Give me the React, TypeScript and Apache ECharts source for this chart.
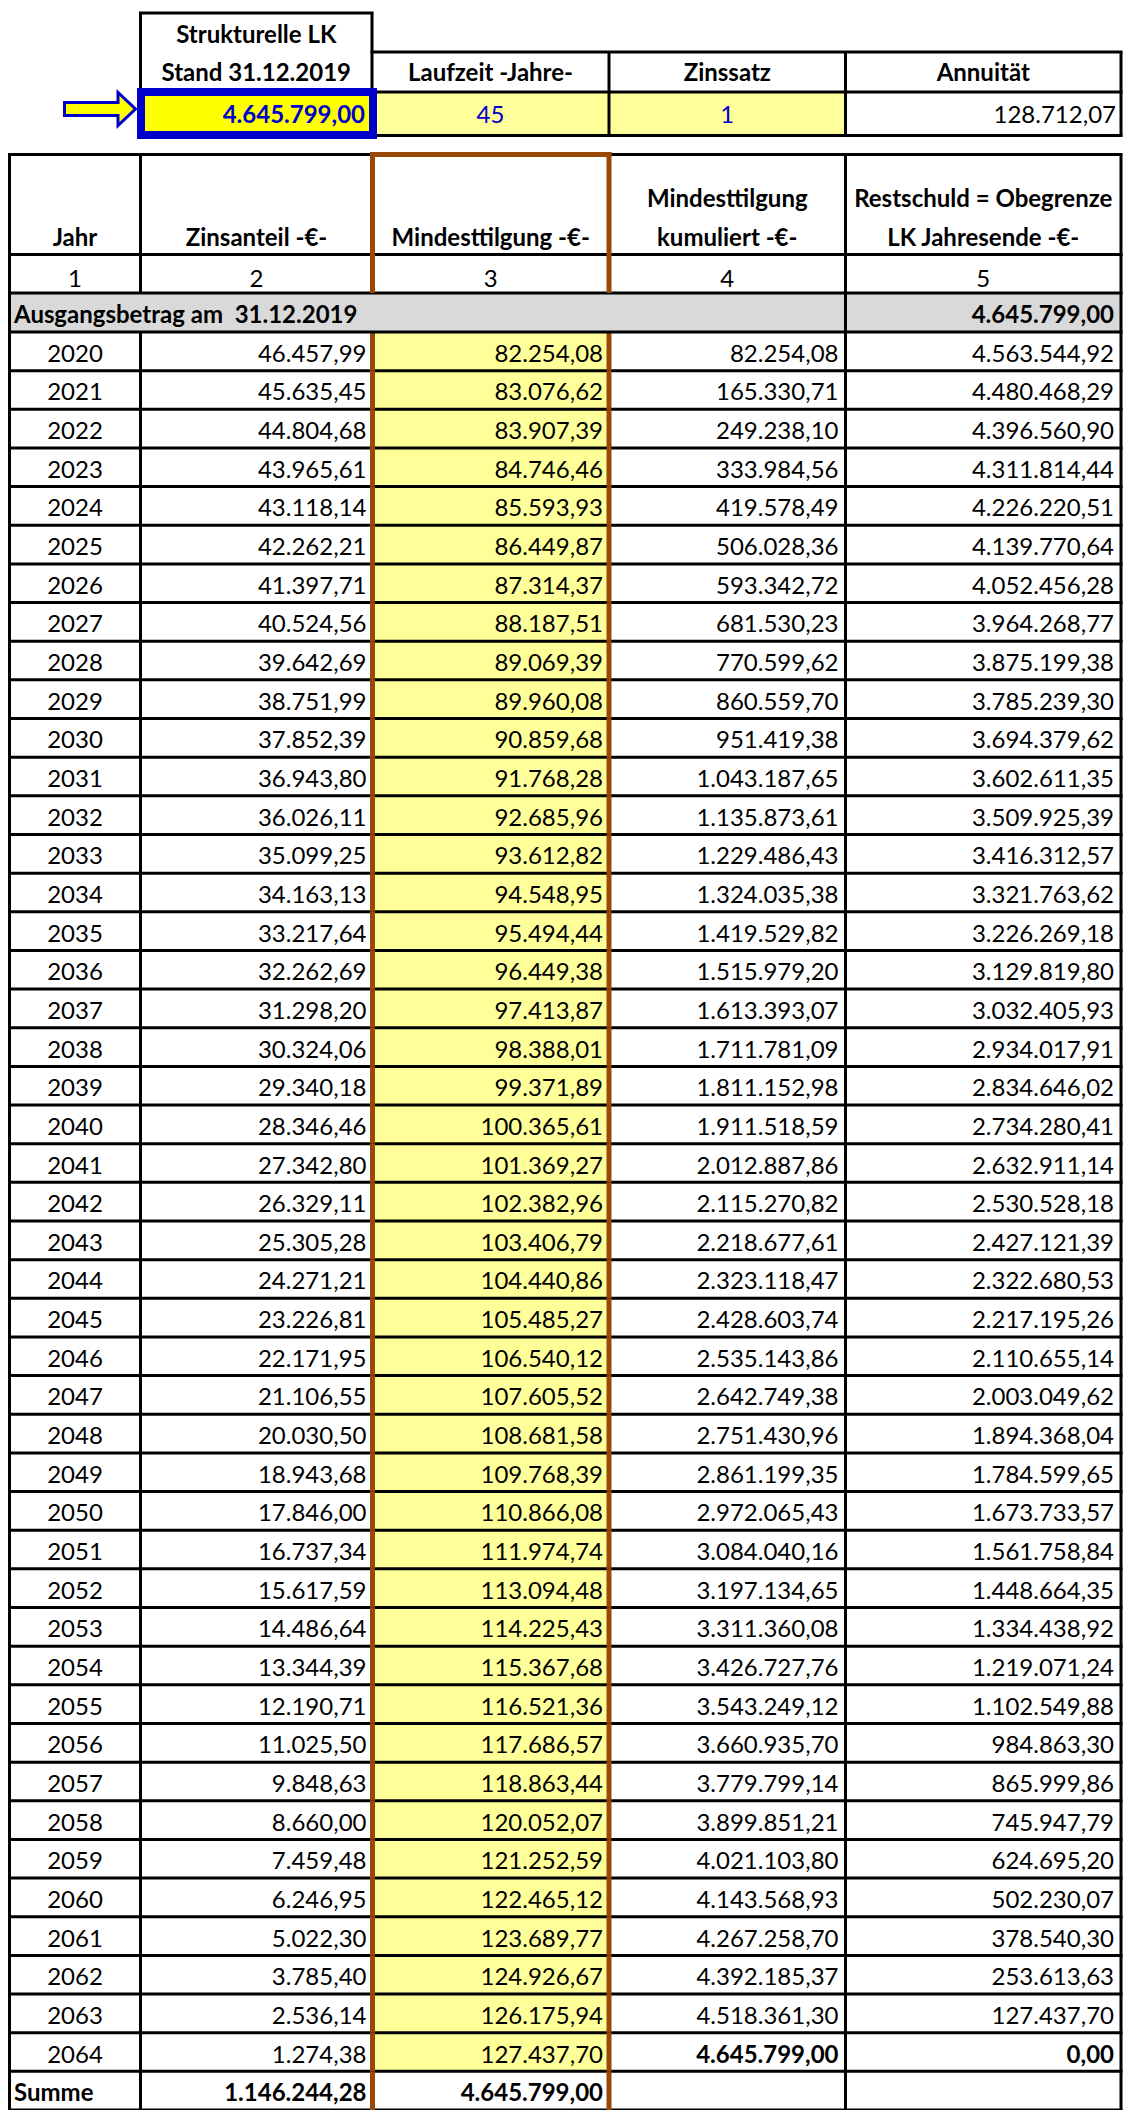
import React, { useEffect, useRef } from "react";
import * as echarts from "echarts";

// ---------- DATA ----------
const years = [
  "2020", "2021", "2022", "2023", "2024", "2025", "2026", "2027", "2028", "2029",
  "2030", "2031", "2032", "2033", "2034", "2035", "2036", "2037", "2038", "2039",
  "2040", "2041", "2042", "2043", "2044", "2045", "2046", "2047", "2048", "2049",
  "2050", "2051", "2052", "2053", "2054", "2055", "2056", "2057", "2058", "2059",
  "2060", "2061", "2062", "2063", "2064",
];
const zinsanteil = [
  46457.99, 45635.45, 44804.68, 43965.61, 43118.14, 42262.21, 41397.71, 40524.56, 39642.69, 38751.99,
  37852.39, 36943.80, 36026.11, 35099.25, 34163.13, 33217.64, 32262.69, 31298.20, 30324.06, 29340.18,
  28346.46, 27342.80, 26329.11, 25305.28, 24271.21, 23226.81, 22171.95, 21106.55, 20030.50, 18943.68,
  17846.00, 16737.34, 15617.59, 14486.64, 13344.39, 12190.71, 11025.50, 9848.63, 8660.00, 7459.48,
  6246.95, 5022.30, 3785.40, 2536.14, 1274.38,
];
const mindesttilgung = [
  82254.08, 83076.62, 83907.39, 84746.46, 85593.93, 86449.87, 87314.37, 88187.51, 89069.39, 89960.08,
  90859.68, 91768.28, 92685.96, 93612.82, 94548.95, 95494.44, 96449.38, 97413.87, 98388.01, 99371.89,
  100365.61, 101369.27, 102382.96, 103406.79, 104440.86, 105485.27, 106540.12, 107605.52, 108681.58, 109768.39,
  110866.08, 111974.74, 113094.48, 114225.43, 115367.68, 116521.36, 117686.57, 118863.44, 120052.07, 121252.59,
  122465.12, 123689.77, 124926.67, 126175.94, 127437.70,
];
const kumuliert = [
  82254.08, 165330.71, 249238.10, 333984.56, 419578.49, 506028.36, 593342.72, 681530.23, 770599.62, 860559.70,
  951419.38, 1043187.65, 1135873.61, 1229486.43, 1324035.38, 1419529.82, 1515979.20, 1613393.07, 1711781.09, 1811152.98,
  1911518.59, 2012887.86, 2115270.82, 2218677.61, 2323118.47, 2428603.74, 2535143.86, 2642749.38, 2751430.96, 2861199.35,
  2972065.43, 3084040.16, 3197134.65, 3311360.08, 3426727.76, 3543249.12, 3660935.70, 3779799.14, 3899851.21, 4021103.80,
  4143568.93, 4267258.70, 4392185.37, 4518361.30, 4645799.00,
];
const restschuld = [
  4563544.92, 4480468.29, 4396560.90, 4311814.44, 4226220.51, 4139770.64, 4052456.28, 3964268.77, 3875199.38, 3785239.30,
  3694379.62, 3602611.35, 3509925.39, 3416312.57, 3321763.62, 3226269.18, 3129819.80, 3032405.93, 2934017.91, 2834646.02,
  2734280.41, 2632911.14, 2530528.18, 2427121.39, 2322680.53, 2217195.26, 2110655.14, 2003049.62, 1894368.04, 1784599.65,
  1673733.57, 1561758.84, 1448664.35, 1334438.92, 1219071.24, 1102549.88, 984863.30, 865999.86, 745947.79, 624695.20,
  502230.07, 378540.30, 253613.63, 127437.70, 0.00,
];
const summeLabel = "Summe";
const summeZins = 1146244.28;
const summeTilgung = 4645799.0;

const strukturelleLK = 4645799.0;
const laufzeitJahre = 45;
const zinssatz = 1;
const annuitaet = 128712.07;
const startLabel = "Ausgangsbetrag am\u00A0 31.12.2019";
const startBetrag = 4645799.0;

const topHeaderA = ["Strukturelle LK", "Stand 31.12.2019"];
const topHeaders = ["Laufzeit -Jahre-", "Zinssatz", "Annuität"];
const colHeaders: string[][] = [
  ["Jahr"],
  ["Zinsanteil -€-"],
  ["Mindesttilgung -€-"],
  ["Mindesttilgung", "kumuliert -€-"],
  ["Restschuld = Obegrenze", "LK Jahresende -€-"],
];
const colNumbers = ["1", "2", "3", "4", "5"];

// ---------- LAYOUT / STYLE ----------
const W = 1124;
const H = 2110;
const FONT = "Lato";
const FS = 24;
const XE = [9.5, 140.5, 372.5, 609, 845.5, 1121]; // column edges
const TX = [140.5, 372, 609, 845.5, 1121]; // top block edges
const Y_HEAD_TOP = 154.5;
const Y_HEAD_BOT = 254.5;
const Y_NUM_BOT = 293;
const Y_GRAY_BOT = 332;
const ROW_H = 38.71;
const BLACK = "#000000";
const BROWN = "#984807";
const BLUE = "#0000CC";
const YELLOW_L = "#FFFF99";
const YELLOW = "#FFFF00";
const GRAY = "#D9D9D9";
const LW = 3;
const LW_BROWN = 5;
const PAD = 6;

function fmt(v: number): string {
  const s = Math.abs(v).toFixed(2);
  const [int, dec] = s.split(".");
  const g = int.replace(/\B(?=(\d{3})+(?!\d))/g, ".");
  return (v < 0 ? "-" : "") + g + "," + dec;
}

function hline(x1: number, x2: number, y: number, stroke = BLACK, lw = LW, z = 5) {
  return { type: "line", z, shape: { x1, y1: y, x2, y2: y }, style: { stroke, lineWidth: lw } };
}
function vline(x: number, y1: number, y2: number, stroke = BLACK, lw = LW, z = 5) {
  return { type: "line", z, shape: { x1: x, y1, x2: x, y2 }, style: { stroke, lineWidth: lw } };
}
function txt(text: string, x: number, y: number, align: string, bold = false, fill = BLACK, z = 6) {
  return {
    type: "text",
    z,
    x,
    y,
    style: {
      text,
      align,
      verticalAlign: "middle",
      fontSize: FS,
      fontFamily: FONT,
      fontWeight: bold ? "bold" : "normal",
      fill,
    },
  };
}

function buildGraphic() {
  const g: any[] = [];
  // ---- top block ----
  g.push({ type: "rect", z: 1, shape: { x: TX[1], y: 92, width: TX[3] - TX[1], height: 43.5 }, style: { fill: YELLOW_L } });
  g.push(hline(TX[0] - 1.5, TX[1] + 1.5, 13));
  g.push(hline(TX[1] - 1.5, TX[4] + 1.5, 52));
  g.push(hline(TX[0] - 1.5, TX[4] + 1.5, 92));
  g.push(hline(TX[0] - 1.5, TX[4] + 1.5, 135.5));
  g.push(vline(TX[0], 13, 135.5));
  g.push(vline(TX[1], 13, 135.5));
  g.push(vline(TX[2], 52, 135.5));
  g.push(vline(TX[3], 52, 135.5));
  g.push(vline(TX[4], 52, 135.5));
  g.push({
    type: "rect",
    z: 7,
    shape: { x: 141, y: 92, width: 232, height: 43 },
    style: { fill: YELLOW, stroke: BLUE, lineWidth: 8 },
  });
  g.push({
    type: "polygon",
    z: 7,
    shape: {
      points: [
        [64.5, 102.5], [118, 102.5], [118, 92.5], [135.5, 109], [118, 125.5], [118, 115.5], [64.5, 115.5],
      ],
    },
    style: { fill: YELLOW, stroke: BLUE, lineWidth: 3, lineJoin: "miter" },
  });
  const cA = (TX[0] + TX[1]) / 2;
  g.push(txt(topHeaderA[0], cA, 33, "center", true));
  g.push(txt(topHeaderA[1], cA, 71, "center", true));
  topHeaders.forEach((t, k) => g.push(txt(t, (TX[k + 1] + TX[k + 2]) / 2, 71, "center", true)));
  g.push(txt(fmt(strukturelleLK), TX[1] - 7, 113, "right", true, BLUE, 8));
  g.push(txt(String(laufzeitJahre), (TX[1] + TX[2]) / 2, 113, "center", false, BLUE));
  g.push(txt(String(zinssatz), (TX[2] + TX[3]) / 2, 113, "center", false, BLUE));
  g.push(txt(fmt(annuitaet), TX[4] - 5, 113, "right", false, BLACK));

  // ---- main header ----
  g.push({ type: "rect", z: 1, shape: { x: XE[0], y: Y_NUM_BOT, width: XE[5] - XE[0], height: Y_GRAY_BOT - Y_NUM_BOT }, style: { fill: GRAY } });
  g.push(hline(XE[0] - 1.5, XE[5] + 1.5, Y_HEAD_TOP));
  g.push(hline(XE[0] - 1.5, XE[5] + 1.5, Y_HEAD_BOT));
  g.push(hline(XE[0] - 1.5, XE[5] + 1.5, Y_NUM_BOT));
  g.push(hline(XE[0] - 1.5, XE[5] + 1.5, Y_GRAY_BOT));
  g.push(vline(XE[0], Y_HEAD_TOP, Y_GRAY_BOT));
  g.push(vline(XE[1], Y_HEAD_TOP, Y_NUM_BOT));
  g.push(vline(XE[4], Y_HEAD_TOP, Y_GRAY_BOT));
  g.push(vline(XE[5], Y_HEAD_TOP, Y_GRAY_BOT));
  g.push(hline(XE[2] - 2.5, XE[3] + 2.5, Y_HEAD_TOP, BROWN, LW_BROWN, 9));
  g.push(vline(XE[2], Y_HEAD_TOP - 2.5, Y_NUM_BOT, BROWN, LW_BROWN, 9));
  g.push(vline(XE[3], Y_HEAD_TOP - 2.5, Y_NUM_BOT, BROWN, LW_BROWN, 9));
  colHeaders.forEach((lines, k) => {
    const cx = (XE[k] + XE[k + 1]) / 2;
    if (lines.length === 1) g.push(txt(lines[0], cx, 236, "center", true));
    else {
      g.push(txt(lines[0], cx, 197, "center", true));
      g.push(txt(lines[1], cx, 236, "center", true));
    }
    g.push(txt(colNumbers[k], cx, 277, "center", false));
  });
  g.push(txt(startLabel, 14, 313, "left", true));
  g.push(txt(fmt(startBetrag), XE[5] - PAD - 1, 313, "right", true));
  return g;
}

const rowCats = [...years, summeLabel];

function renderRow(params: any, api: any) {
  const i = api.value(1) as number;
  const c = api.coord([0, i]);
  const band = (api.size([0, 1]) as number[])[1];
  const yTop = c[1] - band / 2;
  const yBot = c[1] + band / 2;
  const ty = c[1] + 1;
  const xs = XE.map((x) => api.coord([x, i])[0]);
  const isSum = i === years.length;
  const children: any[] = [];
  if (!isSum) {
    children.push({ type: "rect", z2: 0, shape: { x: xs[2], y: yTop, width: xs[3] - xs[2], height: band }, style: { fill: YELLOW_L } });
  }
  const t = (text: string, x: number, align: string, bold: boolean) => ({
    type: "text",
    z2: 6,
    style: { text, x, y: ty, align, verticalAlign: "middle", fontSize: FS, fontFamily: FONT, fontWeight: bold ? "bold" : "normal", fill: BLACK },
  });
  if (isSum) {
    children.push(t(summeLabel, 14, "left", true));
    children.push(t(fmt(summeZins), xs[2] - PAD, "right", true));
    children.push(t(fmt(summeTilgung), xs[3] - PAD, "right", true));
  } else {
    const last = i === years.length - 1;
    children.push(t(years[i], (xs[0] + xs[1]) / 2, "center", false));
    children.push(t(fmt(zinsanteil[i]), xs[2] - PAD, "right", false));
    children.push(t(fmt(mindesttilgung[i]), xs[3] - PAD, "right", false));
    children.push(t(fmt(kumuliert[i]), xs[4] - PAD - 1, "right", last));
    children.push(t(fmt(restschuld[i]), xs[5] - PAD - 1, "right", last));
  }
  children.push({ type: "line", z2: 3, shape: { x1: xs[0] - 1.5, y1: yBot, x2: xs[5] + 1.5, y2: yBot }, style: { stroke: BLACK, lineWidth: LW } });
  [0, 1, 4, 5].forEach((k) =>
    children.push({ type: "line", z2: 4, shape: { x1: xs[k], y1: yTop, x2: xs[k], y2: yBot }, style: { stroke: BLACK, lineWidth: LW } })
  );
  [2, 3].forEach((k) =>
    children.push({ type: "line", z2: 8, shape: { x1: xs[k], y1: yTop, x2: xs[k], y2: yBot }, style: { stroke: BROWN, lineWidth: LW_BROWN } })
  );
  return { type: "group", children };
}

export default function App() {
  const ref = useRef<HTMLDivElement>(null);
  useEffect(() => {
    if (!ref.current) return;
    const chart = echarts.init(ref.current, null, { renderer: "svg" });
    chart.setOption({
      animation: false,
      backgroundColor: "#ffffff",
      grid: { left: 0, top: Y_GRAY_BOT, width: W, height: rowCats.length * ROW_H, containLabel: false },
      xAxis: { type: "value", min: 0, max: W, show: false },
      yAxis: { type: "category", data: rowCats, inverse: true, show: false },
      graphic: { elements: buildGraphic() },
      series: [
        {
          type: "custom",
          coordinateSystem: "cartesian2d",
          renderItem: renderRow,
          data: rowCats.map((_, i) => [0, i]),
          encode: { x: 0, y: 1 },
          clip: false,
          silent: true,
        },
      ],
    });
    return () => chart.dispose();
  }, []);
  return <div ref={ref} style={{ position: "absolute", left: 0, top: 0, width: W, height: H }} />;
}
